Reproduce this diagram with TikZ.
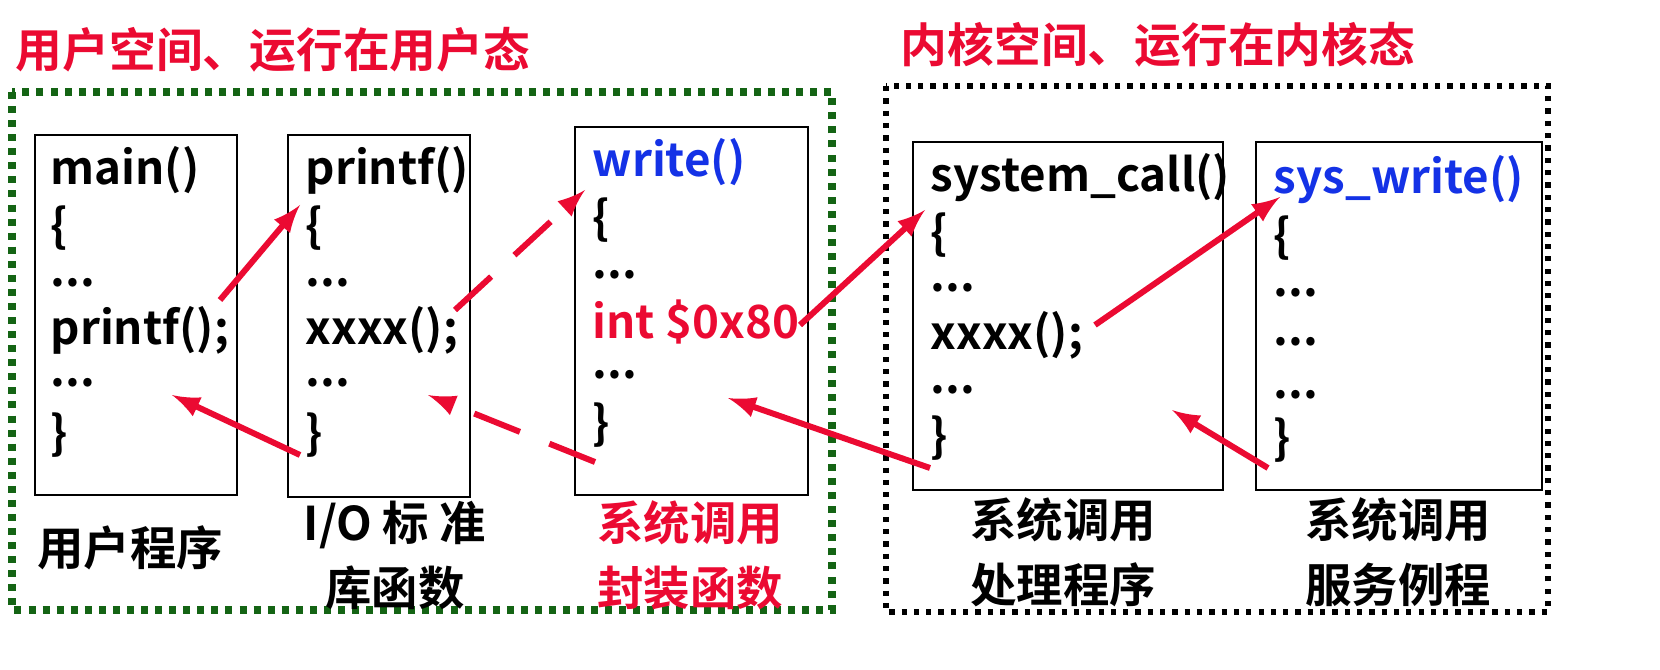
\documentclass[tikz,border=0pt]{standalone}
\usepackage{fontspec}
\setmainfont{Noto Sans CJK SC}[BoldFont={* Bold}]
\definecolor{callred}{RGB}{235,10,50}
\definecolor{callblue}{RGB}{20,50,230}
\definecolor{userg}{RGB}{20,100,20}
\tikzset{
  code/.style={anchor=west, inner sep=0pt, font=\fontsize{13}{15}\selectfont\bfseries},
  caption/.style={align=center, font=\fontsize{13.2}{18.5}\selectfont\bfseries},
  title/.style={anchor=west, inner sep=0pt, text=callred, font=\fontsize{13.3}{15}\selectfont\bfseries},
  box/.style={draw, thick},
  call/.style={->, >=latex, callred, line width=1.7pt},
}
\begin{document}
\begin{tikzpicture}[x=0.01cm, y=-0.01cm]
  \useasboundingbox (0,0) rectangle (1660,670);

  \node[title] (utitle) at (15,50) {用户空间、运行在用户态};
  \node[title] (ktitle) at (900,45) {内核空间、运行在内核态};

  \draw[userg, dotted, line width=2pt] (12,92) rectangle (832,610);
  \draw[dotted, line width=1.5pt] (886,86) rectangle (1548,612);

  \draw[box] (35,135) rectangle (237,495);
  \draw[box] (288,135) rectangle (470,497);
  \draw[box] (575,127) rectangle (808,495);
  \draw[box] (913,142) rectangle (1223,490);
  \draw[box] (1256,142) rectangle (1542,490);

  % user program
  \node[code] (m1) at (50,170) {main()};
  \node[code] (m2) at (50,228) {\{};
  \node[code] (m3) at (50,283) {...};
  \node[code] (m4) at (50,330) {printf();};
  \node[code] (m5) at (50,383) {...};
  \node[code] (m6) at (50,435) {\}};

  % library
  \node[code] (p1) at (305,170) {printf()};
  \node[code] (p2) at (305,228) {\{};
  \node[code] (p3) at (305,283) {...};
  \node[code] (p4) at (305,330) {xxxx();};
  \node[code] (p5) at (305,383) {...};
  \node[code] (p6) at (305,435) {\}};

  % wrapper
  \node[code, text=callblue] (w1) at (592,162) {write()};
  \node[code] (w2) at (592,220) {\{};
  \node[code] (w3) at (592,275) {...};
  \node[code, text=callred] (w4) at (592,322) {int \$0x80};
  \node[code] (w5) at (592,375) {...};
  \node[code] (w6) at (592,425) {\}};

  % handler
  \node[code] (s1) at (930,178) {system\_call()};
  \node[code] (s2) at (930,235) {\{};
  \node[code] (s3) at (930,288) {...};
  \node[code] (s4) at (930,335) {xxxx();};
  \node[code] (s5) at (930,390) {...};
  \node[code] (s6) at (930,438) {\}};

  % service routine
  \node[code, text=callblue] (r1) at (1273,180) {sys\_write()};
  \node[code] (r2) at (1273,238) {\{};
  \node[code] (r3) at (1273,293) {...};
  \node[code] (r4) at (1273,342) {...};
  \node[code] (r5) at (1273,395) {...};
  \node[code] (r6) at (1273,440) {\}};

  \node[caption] (ulabel) at (130,548) {用户程序};
  \node[caption] (llabel) at (395,555) {I/O 标 准\\库函数};
  \node[caption, text=callred] (wlabel) at (690,555) {系统调用\\封装函数};
  \node[caption] (hlabel) at (1063,552) {系统调用\\处理程序};
  \node[caption] (slabel) at (1398,552) {系统调用\\服务例程};

  \coordinate (a1s) at (220,300); \coordinate (a1e) at (300,205);
  \coordinate (a2s) at (455,310); \coordinate (a2e) at (585,190);
  \coordinate (a3s) at (800,325); \coordinate (a3e) at (925,210);
  \coordinate (a4s) at (1095,325); \coordinate (a4e) at (1280,197);
  \coordinate (b1s) at (300,455); \coordinate (b1e) at (172,395);
  \coordinate (b2s) at (595,462); \coordinate (b2e) at (428,395);
  \coordinate (b3s) at (930,468); \coordinate (b3e) at (728,398);
  \coordinate (b4s) at (1268,468); \coordinate (b4e) at (1172,410);

  \path[call] (a1s) edge (a1e);
  \path[call, dash pattern=on 14pt off 9pt] (a2s) edge (a2e);
  \path[call] (a3s) edge (a3e);
  \path[call] (a4s) edge (a4e);
  \path[call] (b1s) edge (b1e);
  \path[call, dash pattern=on 14pt off 9pt] (b2s) edge (b2e);
  \path[call] (b3s) edge (b3e);
  \path[call] (b4s) edge (b4e);
\end{tikzpicture}
\end{document}
